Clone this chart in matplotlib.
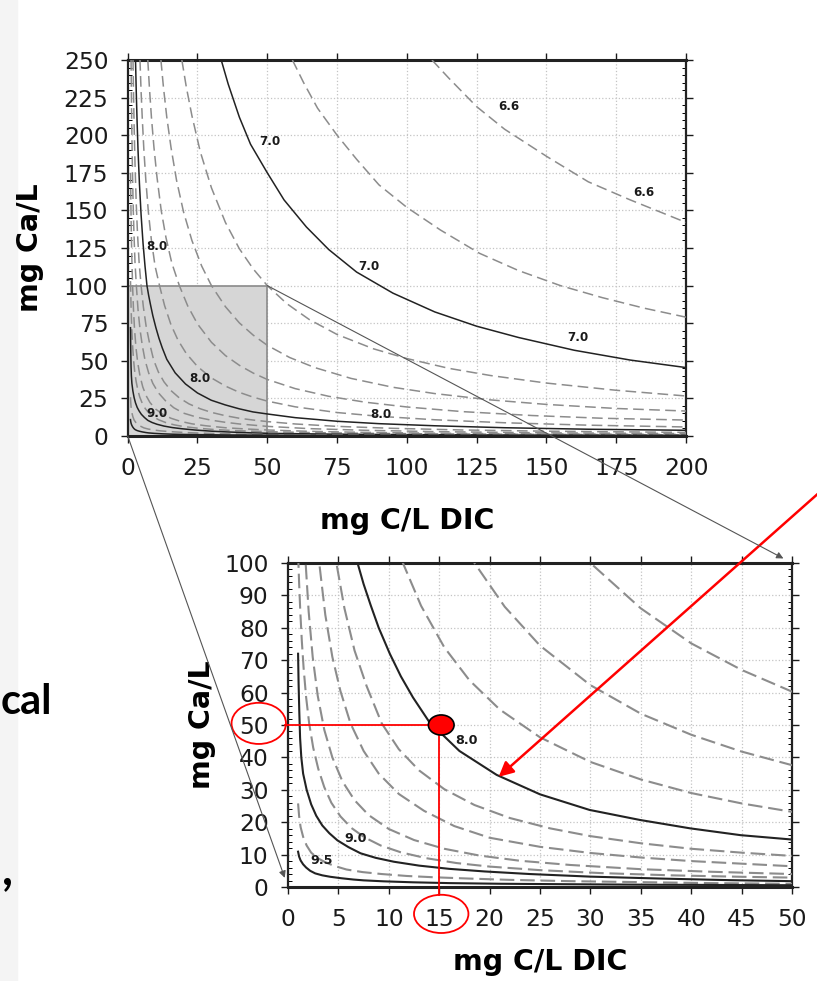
import matplotlib
matplotlib.use("Agg")
import matplotlib.pyplot as plt
from matplotlib.patches import Rectangle, Ellipse, ConnectionPatch
from matplotlib.ticker import MultipleLocator

plt.rcParams['font.family'] = ['DejaVu Sans']

# pH iso-lines: DIC (mg C/L) vs Ca (mg/L)
dic_66 = [109, 115, 125, 135, 150, 165, 180, 200]
ca_66 = [250, 238, 219, 204, 186, 169, 157, 142]

dic_68 = [59, 63, 68, 75, 82, 90, 100, 112, 126, 140, 155, 170, 185, 200]
ca_68 = [250, 235, 218, 200, 184, 167, 152, 137, 121.5, 110, 100, 92, 85, 79]

dic_70 = [33.5, 36, 40, 44, 50, 56, 64, 72, 82, 95, 110, 125, 140, 160, 180, 200]
ca_70 = [250, 234, 212, 194, 175, 157, 139, 124, 109, 95, 82.5, 73, 65.5, 57, 50.5, 45.5]

dic_72 = [19.4, 21, 23, 26, 30, 35, 40, 45, 50, 57, 65, 75, 88, 100, 115, 130, 150, 175, 200]
ca_72 = [250, 232, 213, 189, 165, 142, 124.5, 111, 100, 88, 77.5, 67.5, 58, 51.5, 45, 40.2, 35.2, 30.4, 26.6]

dic_74 = [11.9, 12.8, 14, 15.5, 17.5, 20, 23, 26.5, 30, 35, 40, 45, 50, 58, 67, 80, 95, 110, 130, 150, 175, 200]
ca_74 = [250, 232, 212, 192, 170, 149, 130, 113, 100, 86, 75.2, 67, 60.3, 52.2, 45.5, 38.3, 32.4, 28.2, 24, 21, 18.3, 16.6]

dic_76 = [7.2, 7.8, 8.5, 9.4, 10.5, 12, 13.7, 15.8, 18.5, 21.5, 25, 30, 35, 40, 45, 50, 60, 72, 85, 100, 120, 145, 170, 200]
ca_76 = [250, 231, 212, 192, 172, 150, 132, 115, 100, 86.5, 74.5, 62.3, 53.5, 47, 41.8, 37.6, 31.5, 26.4, 22.5, 19.3, 16.2, 13.6, 11.8, 10.6]

dic_78 = [4.4, 4.8, 5.2, 5.8, 6.5, 7.4, 8.5, 9.8, 11.4, 13.2, 15.5, 18, 21, 25, 30, 35, 40, 45, 50, 60, 75, 90, 110, 135, 165, 200]
ca_78 = [250, 229, 212, 190, 170, 149, 130, 113, 100, 86.8, 74, 63.8, 54.8, 46.2, 38.6, 33.2, 29, 25.8, 23.2, 19.4, 15.6, 13.1, 10.8, 8.8, 7.2, 6.0]

dic_80 = [2.8, 3.05, 3.35, 3.7, 4.2, 4.8, 5.5, 6.2, 6.9, 7.5, 8.2, 9.0, 10.1, 11.2, 12.4, 14, 17, 20.7, 25, 29.9, 34.9, 39.9, 44.9, 49.8, 60, 75, 90, 110, 135, 165, 200]
ca_80 = [250, 230, 210, 190, 168, 147, 128, 113, 100, 93.5, 87, 80, 72, 65, 58.5, 51, 42, 34.6, 28.6, 23.8, 20.7, 18.1, 16, 14.7, 12.2, 9.8, 8.2, 6.8, 5.5, 4.5, 3.8]

dic_82 = [1.9, 2.1, 2.35, 2.65, 3.05, 3.5, 4.1, 4.8, 5.6, 6.6, 7.8, 9.3, 11, 13, 15.5, 18.5, 22, 26, 30, 35, 40, 45, 50, 60, 75, 95, 120, 150, 200]
ca_82 = [250, 226, 202, 179, 155, 135, 115, 100, 86, 73, 62, 50.5, 42.5, 36, 30.2, 25.3, 21.3, 18.1, 15.7, 13.5, 11.8, 10.6, 9.6, 8.0, 6.4, 5.1, 4.0, 3.2, 2.4]

dic_84 = [1.2, 1.32, 1.47, 1.65, 1.9, 2.2, 2.6, 3.1, 3.7, 4.4, 5.2, 6.2, 7.5, 9, 11, 13.5, 16.5, 20, 25, 30, 35, 40, 50, 65, 85, 110, 150, 200]
ca_84 = [250, 227, 204, 182, 158, 137, 116, 100, 84, 71, 60.5, 50.5, 42, 35, 28.7, 23.5, 18.8, 15.2, 12.4, 10.5, 9.1, 8.0, 6.4, 4.9, 3.8, 2.9, 2.1, 1.6]

dic_86 = [1.0, 1.1, 1.22, 1.37, 1.55, 1.75, 2.05, 2.45, 2.95, 3.6, 4.4, 5.4, 6.6, 8, 10, 12.5, 15.5, 19, 23, 28, 35, 42, 50, 65, 85, 110, 150, 200]
ca_86 = [175, 160, 144, 128, 113, 100, 85, 71, 59, 48.5, 40, 32.6, 26.8, 22.2, 17.9, 14.5, 11.8, 9.7, 8.1, 6.8, 5.5, 4.7, 4.0, 3.1, 2.4, 1.85, 1.35, 1.0]

dic_88 = [1.0, 1.1, 1.22, 1.37, 1.55, 1.8, 2.1, 2.5, 3.0, 3.6, 4.3, 5.2, 6.3, 7.6, 9.2, 11.2, 13.7, 16.7, 20, 25, 31, 38, 45, 50, 65, 85, 110, 150, 200]
ca_88 = [103, 94, 85, 76, 67.5, 58.5, 50.5, 43, 36.5, 30.8, 26, 21.8, 18.2, 15.3, 12.8, 10.7, 8.9, 7.4, 6.3, 5.2, 4.3, 3.6, 3.15, 2.9, 2.3, 1.8, 1.4, 1.05, 0.8]

dic_90 = [1.0, 1.05, 1.12, 1.2, 1.32, 1.5, 1.85, 2.3, 2.8, 3.4, 4.1, 4.9, 6, 7.2, 8.7, 10.5, 13, 16, 19.5, 24, 30, 37, 44, 50, 70, 100, 140, 200]
ca_90 = [72, 63, 54, 46, 40, 35, 30, 25.5, 22, 19, 16.6, 14.4, 12.3, 10.4, 9, 7.8, 6.6, 5.6, 4.8, 4.0, 3.2, 2.6, 2.1, 1.8, 1.3, 0.9, 0.65, 0.45]

dic_925 = [1.0, 1.1, 1.25, 1.5, 1.85, 2.3, 2.9, 3.6, 4.5, 5.8, 7.4, 9.3, 11.8, 14.5, 18, 22, 28, 35, 42, 50, 70, 100, 140, 200]
ca_925 = [25.8, 22, 18.5, 15.5, 12.8, 10.6, 9.0, 7.8, 6.6, 5.4, 4.6, 4.0, 3.4, 3.0, 2.6, 2.2, 1.8, 1.5, 1.2, 1.0, 0.75, 0.55, 0.4, 0.3]

dic_95 = [1.0, 1.1, 1.25, 1.5, 1.8, 2.2, 2.7, 3.4, 4.2, 5.3, 6.5, 7.5, 9.5, 12.4, 16, 21, 28, 36, 50, 70, 100, 140, 200]
ca_95 = [10.9, 9.4, 8.2, 7.0, 6.0, 5.0, 4.2, 3.6, 3.15, 2.7, 2.3, 2.05, 1.75, 1.45, 1.2, 1.0, 0.85, 0.7, 0.55, 0.42, 0.32, 0.24, 0.18]

curves = [(6.6, dic_66, ca_66), (6.8, dic_68, ca_68), (7.0, dic_70, ca_70),
          (7.2, dic_72, ca_72), (7.4, dic_74, ca_74), (7.6, dic_76, ca_76),
          (7.8, dic_78, ca_78), (8.0, dic_80, ca_80), (8.2, dic_82, ca_82),
          (8.4, dic_84, ca_84), (8.6, dic_86, ca_86), (8.8, dic_88, ca_88),
          (9.0, dic_90, ca_90), (9.25, dic_925, ca_925), (9.5, dic_95, ca_95)]
solid_levels = [7.0, 8.0, 9.0, 9.5]

# in-line labels
top_lab_text = ["6.6", "6.6", "7.0", "7.0", "7.0", "8.0", "8.0", "8.0", "9.0"]
top_lab_dic = [136.5, 184.8, 51.0, 86.3, 161.3, 10.5, 25.7, 90.8, 10.6]
top_lab_ca = [218.9, 161.7, 195.7, 112.6, 65.2, 125.7, 38.5, 14.6, 15.2]
bot_lab_text = ["8.0", "9.0", "9.5"]
bot_lab_dic = [17.7, 6.7, 3.3]
bot_lab_ca = [45.1, 15.0, 8.3]

# zoom window and the highlighted sample
zoom_dic = 50
zoom_ca = 100
point_dic = 15
point_ca = 50
arrow_dic = 20.9
arrow_ca = 34.0

fig = plt.figure(figsize=(8.17, 9.81), dpi=100)
fig.patches.append(Rectangle((0, 0), 17 / 817, 1, transform=fig.transFigure,
                             color='#f4f4f4', zorder=-5))

ax1 = fig.add_axes([127.7 / 817, 545 / 981, 558.3 / 817, 376 / 981])
ax2 = fig.add_axes([288 / 817, 94 / 981, 504 / 817, 324 / 981])


def style(ax, xmax, ymax, xstep, ystep, yminor, lw_dash, dash, lw_solid):
    ax.set_xlim(0, xmax)
    ax.set_ylim(0, ymax)
    ax.xaxis.set_major_locator(MultipleLocator(xstep))
    ax.yaxis.set_major_locator(MultipleLocator(ystep))
    ax.yaxis.set_minor_locator(MultipleLocator(yminor))
    ax.tick_params(which='major', direction='out', length=5, width=1,
                   top=True, right=True, labelsize=16.8, colors='#1a1a1a')
    ax.tick_params(axis='x', which='major', pad=10)
    ax.tick_params(axis='y', which='major', pad=9)
    ax.tick_params(which='minor', direction='in', length=3, width=0.7,
                   left=True, right=True)
    ax.set_axisbelow(True)
    ax.grid(True, which='major', linestyle=':', color='#c4c4c4', lw=0.9)
    for s in ax.spines.values():
        s.set_linewidth(1.6)
        s.set_color('#222222')
    ax.spines['top'].set_linewidth(2.2)
    ax.spines['bottom'].set_linewidth(2.2)
    for lev, xs, ys in curves:
        if lev in solid_levels:
            ax.plot(xs, ys, color='#222222', lw=lw_solid, zorder=3)
        else:
            ax.plot(xs, ys, color='#8c8c8c', lw=lw_dash, dashes=dash, zorder=3)


style(ax1, 200, 250, 25, 25, 5, 1.1, (7, 3.5), 1.1)
style(ax2, 50, 100, 5, 10, 2, 1.5, (7, 2.8), 1.5)

ax1.add_patch(Rectangle((0, 0), zoom_dic, zoom_ca, facecolor='#d6d6d6',
                        edgecolor='#8a8a8a', lw=1.2, zorder=1.5))

for t, x, y in zip(top_lab_text, top_lab_dic, top_lab_ca):
    ax1.text(x, y, t, fontsize=8.6, fontweight='bold', ha='center',
             va='center', color='#1a1a1a', zorder=4)
for t, x, y in zip(bot_lab_text, bot_lab_dic, bot_lab_ca):
    ax2.text(x, y, t, fontsize=9.2, fontweight='bold', ha='center',
             va='center', color='#1a1a1a', zorder=4)

for ax, xl, yl in [(ax1, -0.226, -0.175), (ax2, -0.231, -0.171)]:
    ax.text(0.5, xl, 'mg C/L DIC', transform=ax.transAxes, ha='center',
            va='center', fontsize=20.5, fontweight='bold')
    ax.text(yl, 0.5, 'mg Ca/L', transform=ax.transAxes, ha='center',
            va='center', rotation=90, fontsize=20.5, fontweight='bold')

# zoom connectors
for a, b in [((0, 0), (0, 0)), ((zoom_dic, zoom_ca), (zoom_dic, zoom_ca))]:
    con = ConnectionPatch(xyA=a, coordsA=ax1.transData, xyB=b,
                          coordsB=ax2.transData, arrowstyle='-|>',
                          color='#555555', lw=0.8, shrinkB=7,
                          mutation_scale=10, zorder=6)
    fig.add_artist(con)

# red highlight of the sample point
ax2.plot([-0.25, point_dic], [point_ca, point_ca], color='red', lw=1.3,
         clip_on=False, zorder=5)
ax2.plot([point_dic, point_dic], [point_ca, -2.4], color='red', lw=1.3,
         clip_on=False, zorder=5)
ax2.add_patch(Ellipse((point_dic + 0.2, point_ca), 2.55, 6.2, facecolor='red',
                      edgecolor='black', lw=1.2, zorder=6))
ax2.add_patch(Ellipse((-2.9, point_ca + 0.5), 5.4, 12.7, fill=False,
                      edgecolor='red', lw=1.3, clip_on=False, zorder=6))
ax2.add_patch(Ellipse((point_dic + 0.2, -8.3), 5.4, 11.8, fill=False,
                      edgecolor='red', lw=1.3, clip_on=False, zorder=6))
ax2.annotate('', xy=(arrow_dic, arrow_ca), xytext=(830, 498),
             textcoords='figure pixels', annotation_clip=False,
             arrowprops=dict(arrowstyle='-|>', color='red', lw=1.8,
                             mutation_scale=22, shrinkA=0, shrinkB=0),
             zorder=7)

# slide text fragments at the left edge
fig.text(1 / 817, 1 - 714 / 981, 'cal', ha='left', va='baseline',
         fontsize=30, fontweight='bold', family=['Lato', 'DejaVu Sans'])
fig.text(2 / 817, 1 - 884 / 981, ',', ha='left', va='baseline',
         fontsize=34, fontweight='bold', family=['Lato', 'DejaVu Sans'])

fig.savefig('out.png', dpi=100)
